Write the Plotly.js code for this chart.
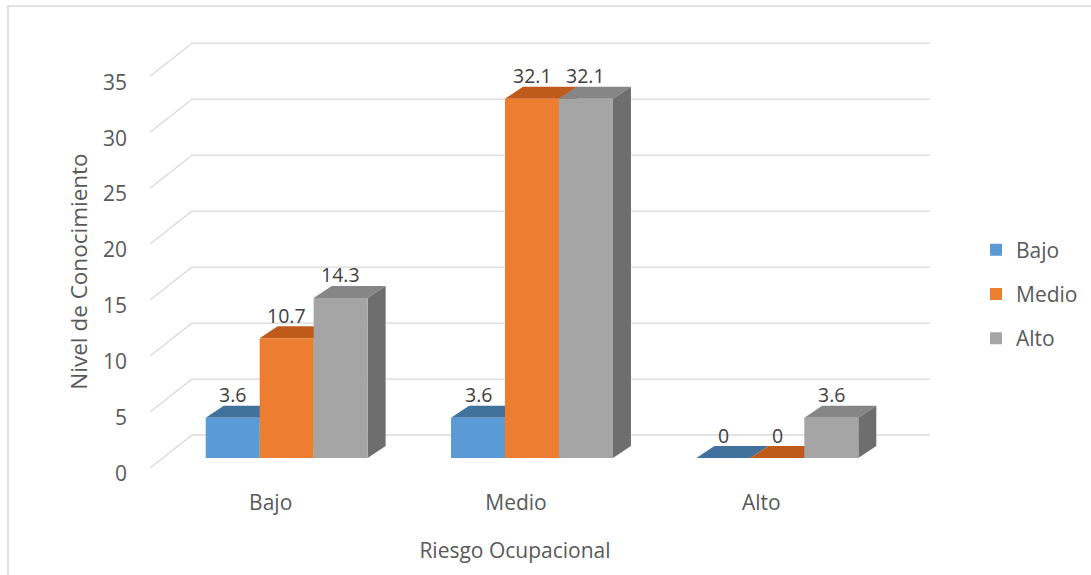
<!DOCTYPE html>
<html><head><meta charset="utf-8">
<script src="https://cdn.plot.ly/plotly-3.0.1.min.js"></script>
<style>html,body{margin:0;padding:0;background:#fff}</style>
</head><body><div id="chart" style="width:1091px;height:575px"></div>
<script>
// ---- data ----
const categories = ['Bajo', 'Medio', 'Alto'];
const seriesNames = ['Bajo', 'Medio', 'Alto'];
const valuesBajo = [3.6, 3.6, 0];
const valuesMedio = [10.7, 32.1, 0];
const valuesAlto = [14.3, 32.1, 3.6];
const yTickVals = [0, 5, 10, 15, 20, 25, 30, 35];
const yTickText = ['0', '5', '10', '15', '20', '25', '30', '35'];
const yTitle = 'Nivel de Conocimiento';
const xTitle = 'Riesgo Ocupacional';

// ---- style ----
const seriesValues = [valuesBajo, valuesMedio, valuesAlto];
const frontColors = ['#5b9bd5', '#ed7d31', '#a5a5a5'];
const topColors = ['#41719c', '#c05a1b', '#868686'];
const sideColors = ['#3b6591', '#a9521a', '#6e6e6e'];

const W = 1091, H = 575, M = {l: 130, r: 191, t: 55, b: 87};
const plotW = W - M.l - M.r, plotH = H - M.t - M.b;
const xRange = [-0.6386, categories.length - 0.5], yRange = [-2.68, 36];
const pxX = plotW / (xRange[1] - xRange[0]), pxY = plotH / (yRange[1] - yRange[0]);
const barW = 0.22, offsets = [-0.33, -0.11, 0.11];
const DX = 18, DY = 12;
const BACK_DX = 62, BACK_DY = 23, BACK_X1 = 800, FRONT_X = 20, FRONT_DY = -10;
const font = 'Open Sans, sans-serif';
const tickColor = '#595959';
const gridColor = '#d9d9d9';

const xIdx = categories.map((c, i) => i);
const yPaper = v => (v - yRange[0]) / (yRange[1] - yRange[0]);

const traces = seriesNames.map((name, s) => ({
  type: 'bar', name: name, x: xIdx, y: seriesValues[s],
  width: barW, offset: offsets[s], base: 0,
  marker: {color: frontColors[s], line: {width: 0}},
  legendgroup: name, hoverinfo: 'skip'
}));

const shapes = [];
// outer chart border
shapes.push({type: 'rect', layer: 'below', xref: 'paper', yref: 'paper',
  xsizemode: 'pixel', ysizemode: 'pixel', xanchor: 0, yanchor: 1,
  x0: 8 - M.l, x1: W - M.l + 20, y0: M.t - 6, y1: -H,
  line: {color: gridColor, width: 1.5}, fillcolor: 'rgba(0,0,0,0)'});
// back wall gridlines and side wall diagonals
yTickVals.forEach(v => {
  const base = {type: 'line', layer: 'below', xref: 'paper', yref: 'paper',
    xsizemode: 'pixel', ysizemode: 'pixel', xanchor: 0, yanchor: yPaper(v),
    line: {color: gridColor, width: 1.3}};
  shapes.push(Object.assign({}, base, {x0: BACK_DX, x1: BACK_X1, y0: BACK_DY, y1: BACK_DY}));
  shapes.push(Object.assign({}, base, {x0: FRONT_X, y0: FRONT_DY, x1: BACK_DX, y1: BACK_DY}));
});
// 3D top and side faces
seriesValues.forEach((vals, s) => vals.forEach((v, i) => {
  const L = i + offsets[s], R = L + barW;
  const wpx = barW * pxX, hpx = v * pxY;
  shapes.push({type: 'path', layer: 'below', xref: 'x', yref: 'y',
    xsizemode: 'pixel', ysizemode: 'pixel', xanchor: L, yanchor: v,
    path: `M0,0L${wpx},0L${wpx + DX},${DY}L${DX},${DY}Z`,
    fillcolor: topColors[s], line: {width: 0}});
  if (v > 0) {
    shapes.push({type: 'path', layer: 'below', xref: 'x', yref: 'y',
      xsizemode: 'pixel', ysizemode: 'pixel', xanchor: R, yanchor: 0,
      path: `M0,0L${DX},${DY}L${DX},${hpx + DY}L0,${hpx}Z`,
      fillcolor: sideColors[s], line: {width: 0}});
  }
}));

const annotations = [];
seriesValues.forEach((vals, s) => vals.forEach((v, i) => {
  annotations.push({x: i + offsets[s] + barW / 2, y: v, xref: 'x', yref: 'y',
    text: String(v), showarrow: false, yanchor: 'middle', yshift: 23,
    font: {family: font, size: 19.5, color: '#404040'}});
}));

const layout = {
  width: W, height: H, margin: {l: M.l, r: M.r, t: M.t, b: M.b, pad: 0, autoexpand: false},
  paper_bgcolor: '#ffffff', plot_bgcolor: 'rgba(0,0,0,0)',
  barmode: 'overlay', showlegend: true,
  xaxis: {range: xRange, tickvals: xIdx, ticktext: categories, showgrid: false,
    zeroline: false, showline: false, ticks: '', ticklabelstandoff: 0, ticklabelshift: -16,
    tickfont: {family: font, size: 21, color: tickColor},
    title: {text: xTitle, font: {family: font, size: 21, color: tickColor}, standoff: 28},
    automargin: false, fixedrange: true},
  yaxis: {range: yRange, tickvals: yTickVals, ticktext: yTickText, showgrid: false,
    zeroline: false, showline: false, ticks: '', ticklabelstandoff: 2, ticklabelshift: 16,
    tickfont: {family: font, size: 21, color: tickColor},
    title: {text: yTitle, font: {family: font, size: 22.5, color: tickColor}, standoff: 9},
    automargin: false, fixedrange: true},
  legend: {x: (976 - M.l) / plotW, xanchor: 'left', y: (H - M.b - 294) / plotH, yanchor: 'middle',
    font: {family: font, size: 21, color: tickColor}, tracegroupgap: 14, itemwidth: 30,
    bgcolor: 'rgba(0,0,0,0)'},
  shapes: shapes, annotations: annotations
};

Plotly.newPlot('chart', traces, layout, {displayModeBar: false, staticPlot: true});
</script>
</body></html>
